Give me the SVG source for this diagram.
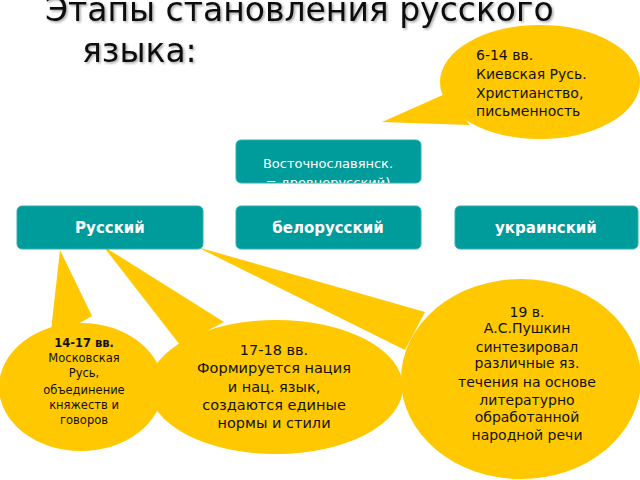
<svg xmlns="http://www.w3.org/2000/svg" width="640" height="480" viewBox="0 0 640 480">
<style>
.b{fill:#FFC800;stroke:none}
.box{fill:#009B9B;stroke:#33B0B0;stroke-width:1}
.t{font-family:"DejaVu Sans","Noto Sans",sans-serif;fill:#111}
.w{font-family:"DejaVu Sans","Noto Sans",sans-serif;fill:#fff;text-anchor:middle}
.c{text-anchor:middle}
</style>
<defs><clipPath id="cp"><rect x="236" y="140" width="185" height="43"/></clipPath>
<filter id="sh" x="-5%" y="-20%" width="110%" height="140%"><feDropShadow dx="1.5" dy="1.5" stdDeviation="1" flood-color="#000" flood-opacity="0.35"/></filter></defs>
<rect width="640" height="480" fill="#fff"/>
<g id="title" font-family="DejaVu Sans,sans-serif" font-size="33" fill="#111" filter="url(#sh)">
<text x="45" y="21">Этапы становления русского</text>
<text x="82" y="62">языка:</text>
</g>
<g id="connectors">
<polygon class="b" points="382,122 445,94 470,125"/>
<polygon class="b" points="60,250 50,340 92,316"/>
<polygon class="b" points="103,246 180,345 224,322"/>
<polygon class="b" points="197,247 405,350 425,312"/>
</g>
<g id="callout-top"><ellipse class="b" cx="540" cy="82" rx="100" ry="57"/>
<text class="t" font-size="14"><tspan x="476" y="60">6-14 вв.</tspan><tspan x="476" y="79">Киевская Русь.</tspan><tspan x="476" y="98">Христианство,</tspan><tspan x="476" y="116">письменность</tspan></text></g>
<g id="root"><rect class="box" x="236" y="140" width="185" height="43" rx="5"/>
<g clip-path="url(#cp)"><text class="w" x="328" y="168" font-size="13">Восточнославянск.</text><text class="w" x="328" y="187" font-size="13">= древнерусский)</text></g></g>
<g id="ru"><rect class="box" x="17" y="206" width="186" height="43" rx="5"/><text class="w" x="110" y="233" font-size="15" font-weight="bold">Русский</text></g>
<g id="by"><rect class="box" x="236" y="206" width="185" height="43" rx="5"/><text class="w" x="328" y="233" font-size="15" font-weight="bold">белорусский</text></g>
<g id="ua"><rect class="box" x="455" y="206" width="183" height="43" rx="5"/><text class="w" x="546" y="233" font-size="15" font-weight="bold">украинский</text></g>
<g id="b1"><ellipse class="b" cx="81" cy="387" rx="82" ry="64"/>
<text class="t c" font-size="11.5"><tspan x="84" y="347" font-weight="bold">14-17 вв.</tspan><tspan x="84" y="362">Московская</tspan><tspan x="84" y="377">Русь,</tspan><tspan x="84" y="394">объединение</tspan><tspan x="84" y="409">княжеств и</tspan><tspan x="84" y="424">говоров</tspan></text></g>
<g id="b2"><ellipse class="b" cx="276" cy="387" rx="127" ry="67"/>
<text class="t c" font-size="14.5"><tspan x="274" y="355">17-18 вв.</tspan><tspan x="274" y="373">Формируется нация</tspan><tspan x="274" y="392">и нац. язык,</tspan><tspan x="274" y="410">создаются единые</tspan><tspan x="274" y="428">нормы и стили</tspan></text></g>
<g id="b3"><ellipse class="b" cx="521" cy="379" rx="120" ry="100"/>
<text class="t c" font-size="14"><tspan x="527" y="317">19 в.</tspan><tspan x="527" y="333">А.С.Пушкин</tspan><tspan x="527" y="352">синтезировал</tspan><tspan x="527" y="368">различные яз.</tspan><tspan x="527" y="387">течения на основе</tspan><tspan x="527" y="405">литературно</tspan><tspan x="527" y="422">обработанной</tspan><tspan x="527" y="440">народной речи</tspan></text></g>
</svg>
